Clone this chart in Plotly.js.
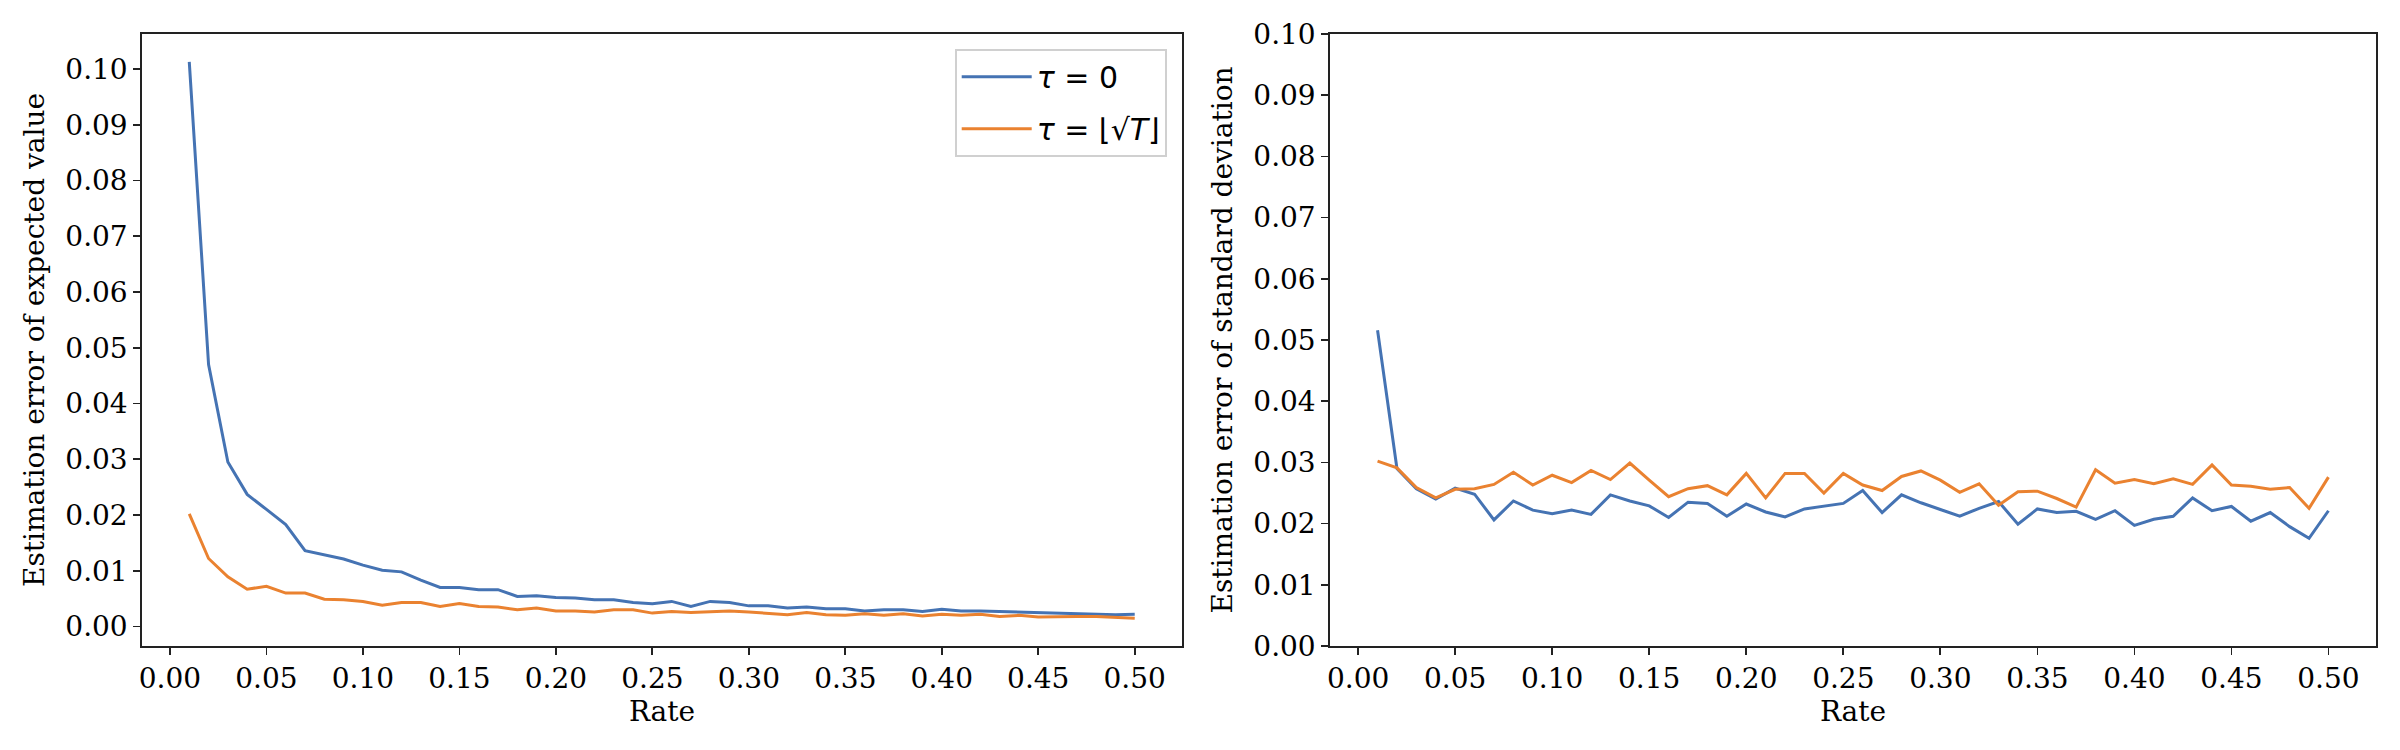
<!DOCTYPE html>
<html>
<head>
<meta charset="utf-8">
<script src="https://cdn.plot.ly/plotly-3.0.1.min.js"></script>
<style>html,body{margin:0;padding:0;background:#fff}#chart{width:2400px;height:750px}</style>
</head>
<body>
<div id="chart"></div>
<script>
// Rate values 0.01 ... 0.50 (listed)
const rate = [0.01,0.02,0.03,0.04,0.05,0.06,0.07,0.08,0.09,0.10,
              0.11,0.12,0.13,0.14,0.15,0.16,0.17,0.18,0.19,0.20,
              0.21,0.22,0.23,0.24,0.25,0.26,0.27,0.28,0.29,0.30,
              0.31,0.32,0.33,0.34,0.35,0.36,0.37,0.38,0.39,0.40,
              0.41,0.42,0.43,0.44,0.45,0.46,0.47,0.48,0.49,0.50];

// Left panel: estimation error of expected value
const meanTau0 = [0.1013,0.0470,0.0295,0.0237,0.0210,0.0183,0.0136,0.0129,0.0121,0.0110,
                  0.0101,0.0098,0.0083,0.0070,0.0070,0.0066,0.0066,0.0054,0.0055,0.0052,
                  0.0051,0.0048,0.0048,0.0043,0.0041,0.0045,0.0036,0.0045,0.0043,0.0037,
                  0.0037,0.0033,0.0035,0.0032,0.0032,0.0028,0.0030,0.0030,0.0027,0.0031,
                  0.0028,0.0028,0.0027,0.0027,0.0025,0.0025,0.0024,0.0023,0.0021,0.0022];
const meanTauSqrt = [0.0202,0.0122,0.0089,0.0067,0.0072,0.0060,0.0060,0.0049,0.0048,0.0045,
                     0.0038,0.0043,0.0043,0.0036,0.0041,0.0036,0.0035,0.0030,0.0033,0.0028,
                     0.0028,0.0026,0.0030,0.0030,0.0024,0.0027,0.0025,0.0026,0.0028,0.0026,
                     0.0024,0.0021,0.0025,0.0021,0.0020,0.0023,0.0020,0.0023,0.0019,0.0022,
                     0.0020,0.0022,0.0018,0.0020,0.0017,0.0018,0.0018,0.0018,0.0017,0.0015];

// Right panel: estimation error of standard deviation
const stdTau0 = [0.0516,0.0290,0.0257,0.0240,0.0258,0.0248,0.0206,0.0237,0.0222,0.0216,
                 0.0222,0.0215,0.0247,0.0237,0.0229,0.0210,0.0235,0.0233,0.0212,0.0232,
                 0.0219,0.0211,0.0224,0.0229,0.0233,0.0254,0.0218,0.0247,0.0234,0.0223,
                 0.0212,0.0225,0.0236,0.0199,0.0224,0.0218,0.0220,0.0207,0.0221,0.0197,
                 0.0207,0.0212,0.0242,0.0221,0.0228,0.0204,0.0218,0.0195,0.0176,0.0221];
const stdTauSqrt = [0.0302,0.0291,0.0259,0.0242,0.0256,0.0257,0.0264,0.0284,0.0263,0.0279,
                    0.0267,0.0287,0.0272,0.0299,0.0271,0.0244,0.0257,0.0262,0.0247,0.0282,
                    0.0242,0.0282,0.0282,0.0250,0.0282,0.0263,0.0254,0.0277,0.0286,0.0271,
                    0.0251,0.0265,0.0230,0.0252,0.0253,0.0241,0.0227,0.0288,0.0266,0.0272,
                    0.0265,0.0273,0.0264,0.0296,0.0263,0.0261,0.0256,0.0259,0.0225,0.0276];

const seriesNames = ['<i>τ</i> = 0', '<i>τ</i> = ⌊√<i>T</i>⌋'];
const xTitle = 'Rate';
const yTitleLeft = 'Estimation error of expected value';
const yTitleRight = 'Estimation error of standard deviation';

const BLUE = '#4573b3', ORANGE = '#ea8230';
const serif = 'DejaVu Serif, serif';
const FS = 28;

const traces = [
  {x: rate, y: meanTau0, name: seriesNames[0], type: 'scatter', mode: 'lines',
   line: {color: BLUE, width: 3}, xaxis: 'x', yaxis: 'y', legendgroup: 'a'},
  {x: rate, y: meanTauSqrt, name: seriesNames[1], type: 'scatter', mode: 'lines',
   line: {color: ORANGE, width: 3}, xaxis: 'x', yaxis: 'y', legendgroup: 'b'},
  {x: rate, y: stdTau0, name: seriesNames[0], type: 'scatter', mode: 'lines', showlegend: false,
   line: {color: BLUE, width: 3}, xaxis: 'x2', yaxis: 'y2'},
  {x: rate, y: stdTauSqrt, name: seriesNames[1], type: 'scatter', mode: 'lines', showlegend: false,
   line: {color: ORANGE, width: 3}, xaxis: 'x2', yaxis: 'y2'}
];

const axBase = {
  showline: true, mirror: true, linecolor: '#222', linewidth: 1.7,
  ticks: 'outside', ticklen: 7, tickwidth: 1.7, tickcolor: '#222',
  showgrid: false, zeroline: false,
  tickfont: {family: serif, size: FS, color: '#000'}
};

const L = 142, R = 24, T = 34, B = 104, W = 2400, H = 750;
const pw = W - L - R;
const d1 = [0, (1182 - L) / pw];
const d2 = [(1330 - L) / pw, 1];

const layout = {
  width: W, height: H,
  margin: {l: L, r: R, t: T, b: B},
  paper_bgcolor: '#fff', plot_bgcolor: '#fff',
  showlegend: true,
  font: {family: serif, size: FS, color: '#000'},
  xaxis: Object.assign({}, axBase, {domain: d1, anchor: 'y', range: [-0.0145, 0.5245],
    tickmode: 'linear', tick0: 0, dtick: 0.05, tickformat: '.2f',
    title: {text: xTitle, font: {family: serif, size: FS}, standoff: 4}}),
  yaxis: Object.assign({}, axBase, {domain: [0, 1], anchor: 'x', range: [-0.0035, 0.1063],
    tickmode: 'linear', tick0: 0, dtick: 0.01, tickformat: '.2f',
    title: {text: yTitleLeft, font: {family: serif, size: FS}, standoff: 12}}),
  xaxis2: Object.assign({}, axBase, {domain: d2, anchor: 'y2', range: [-0.0145, 0.5245],
    tickmode: 'linear', tick0: 0, dtick: 0.05, tickformat: '.2f',
    title: {text: xTitle, font: {family: serif, size: FS}, standoff: 4}}),
  yaxis2: Object.assign({}, axBase, {domain: [0, 1], anchor: 'x2', range: [0, 0.1],
    tickmode: 'linear', tick0: 0, dtick: 0.01, tickformat: '.2f',
    title: {text: yTitleRight, font: {family: serif, size: FS}, standoff: 12}}),
  legend: {
    x: (1167 - L) / pw, xanchor: 'right',
    y: 1 - (49 - T) / (H - T - B), yanchor: 'top',
    bgcolor: 'rgba(255,255,255,0.8)', bordercolor: '#d0d0d0', borderwidth: 1.7,
    font: {family: 'DejaVu Sans, sans-serif', size: 30, color: '#000'},
    itemwidth: 70, tracegroupgap: 10
  }
};

Plotly.newPlot('chart', traces, layout, {staticPlot: true, displayModeBar: false});
</script>
</body>
</html>
